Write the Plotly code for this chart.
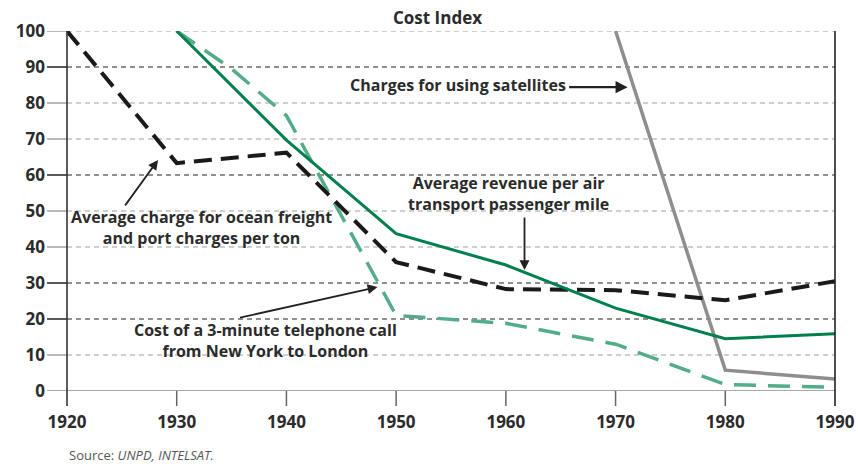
import plotly.graph_objects as go

# Cost index series (1930 or 1920 = 100)
years = [1920, 1930, 1940, 1950, 1960, 1970, 1980, 1990]
ocean_freight = [100, 63.3, 66.2, 35.8, 28.3, 28.0, 25.2, 30.5]

air_years = [1930, 1940, 1950, 1960, 1970, 1980, 1990]
air_revenue = [100, 69.7, 43.7, 35.0, 23.0, 14.5, 15.9]

phone_years = [1930, 1935, 1940, 1950, 1960, 1970, 1980, 1990]
phone_call = [100, 89.5, 76.5, 21.0, 18.8, 13.0, 1.8, 1.0]

sat_years = [1970, 1980, 1990]
satellites = [100, 5.8, 3.3]

y_ticks = [0, 10, 20, 30, 40, 50, 60, 70, 80, 90, 100]
dark_grid = [20, 30, 60, 90]
x_ticks = [1920, 1930, 1940, 1950, 1960, 1970, 1980, 1990]
x_min, x_max = x_ticks[0], x_ticks[-1]

FONT = "Open Sans"
TXT = "#2b2b2b"

fig = go.Figure()

fig.add_trace(go.Scatter(x=sat_years, y=satellites, mode="lines",
                         line=dict(color="#8e8e8e", width=3.5)))
fig.add_trace(go.Scatter(x=phone_years, y=phone_call, mode="lines",
                         line=dict(color="#52ad88", width=3.5, dash="22px,12px")))
fig.add_trace(go.Scatter(x=years, y=ocean_freight, mode="lines",
                         line=dict(color="#1a1a1a", width=4, dash="18px,9px")))
fig.add_trace(go.Scatter(x=air_years, y=air_revenue, mode="lines",
                         line=dict(color="#00804c", width=3)))


def xfrac(v):
    return (v - x_min) / (x_max - x_min)


shapes = []
for v in y_ticks[1:]:
    dark = v in dark_grid
    col = "#222222" if dark else "#a0a0a0"
    shapes.append(dict(type="line", xref="paper", yref="y", x0=0, x1=1, y0=v, y1=v,
                       line=dict(color=col, width=1.2, dash="5px,4px"), layer="below"))
    shapes.append(dict(type="line", xref="paper", yref="y", x0=-0.026, x1=0, y0=v, y1=v,
                       line=dict(color=col, width=1.5), layer="below"))
# baseline at zero
shapes.append(dict(type="line", xref="paper", yref="y", x0=-0.026, x1=1, y0=0, y1=0,
                   line=dict(color="#8a8a8a", width=1.6), layer="below"))
# left and right frame lines extending below the baseline
for xv, col in [(x_min, "#333333"), (x_max, "#222222")]:
    shapes.append(dict(type="line", xref="paper", yref="paper", x0=xfrac(xv), x1=xfrac(xv),
                       y0=-0.042, y1=1, line=dict(color=col, width=1.6)))
# decade tick marks
for xv in x_ticks[1:-1]:
    shapes.append(dict(type="line", xref="paper", yref="paper", x0=xfrac(xv), x1=xfrac(xv),
                       y0=-0.042, y1=0, line=dict(color="#666666", width=1.5)))

ann_font = dict(family=FONT, size=16, color=TXT, weight="bold")
annotations = [
    dict(x=1955.6, y=85, text="Charges for using satellites", showarrow=False, font=ann_font),
    dict(x=1932.3, y=45.4, text="Average charge for ocean freight<br>and port charges per ton",
         showarrow=False, font=ann_font),
    dict(x=1960.2, y=54.8, text="Average revenue per air<br>transport passenger mile",
         showarrow=False, font=ann_font),
    dict(x=1938.1, y=14.0, text="Cost of a 3-minute telephone call<br>from New York to London",
         showarrow=False, font=ann_font),
    # arrows
    dict(x=1971.1, y=84.4, ax=-60, ay=0, text="", showarrow=True, arrowhead=2,
         arrowsize=1.1, arrowwidth=2.2, arrowcolor="#222222"),
    dict(x=1928.3, y=64.2, ax=-34, ay=47, text="", showarrow=True, arrowhead=2,
         arrowsize=1.1, arrowwidth=1.8, arrowcolor="#222222"),
    dict(x=1961.7, y=33.6, ax=0, ay=-54, text="", showarrow=True, arrowhead=2,
         arrowsize=1.1, arrowwidth=1.8, arrowcolor="#222222"),
    dict(x=1948.3, y=28.9, ax=-139, ay=31, text="", showarrow=True, arrowhead=2,
         arrowsize=1.1, arrowwidth=1.8, arrowcolor="#222222"),
    # title and source
    dict(xref="paper", yref="paper", x=0.483, y=1.0, yshift=14, yanchor="middle",
         text="Cost Index", showarrow=False,
         font=dict(family=FONT, size=17, color=TXT, weight="bold")),
    dict(xref="paper", yref="paper", x=0, y=0, yshift=-64, xanchor="left", yanchor="middle",
         text="Source: <i>UNPD, INTELSAT.</i>", showarrow=False,
         font=dict(family=FONT, size=13, color="#555555")),
]

fig.update_layout(
    width=858, height=466,
    margin=dict(l=67, r=23, t=31, b=75),
    paper_bgcolor="white", plot_bgcolor="white",
    showlegend=False,
    shapes=shapes,
    annotations=annotations,
    xaxis=dict(range=[x_min, x_max], tickvals=x_ticks, showgrid=False, zeroline=False,
               showline=False, ticks="", ticklabelstandoff=19, automargin=False,
               tickfont=dict(family=FONT, size=17, color=TXT, weight="bold")),
    yaxis=dict(range=[0, 100], tickvals=y_ticks, showgrid=False, zeroline=False,
               showline=False, ticks="", ticklabelstandoff=21, automargin=False,
               tickfont=dict(family=FONT, size=17, color=TXT, weight="bold")),
)

fig.write_html("out.html")
